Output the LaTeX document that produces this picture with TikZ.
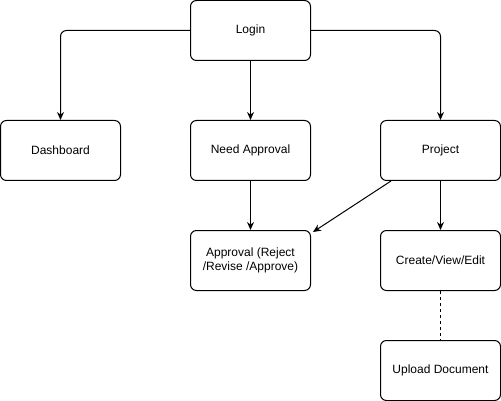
\documentclass[tikz,border=0pt]{standalone}
\usepackage{fontspec}
\setmainfont{Liberation Sans}
\usetikzlibrary{arrows.meta}

\begin{document}
\begin{tikzpicture}[x=1pt,y=-1pt,>={Stealth[length=8pt,width=7pt]},
    box/.style={draw,line width=1pt,rounded corners=6pt,minimum width=120pt,minimum height=60pt,
      inner sep=2pt,align=center,font=\fontsize{12}{14}\selectfont},
    link/.style={->,line width=1pt}]
  \useasboundingbox (0,0) rectangle (501,401);
  % boxes
  \node[box] (login) at (250.5,30.5) {Login};
  \node[box] (dash) at (60.5,150.5) {Dashboard};
  \node[box] (need) at (250.5,150.5) {Need Approval};
  \node[box] (proj) at (440.5,150.5) {Project};
  \node[box] (appr) at (250.5,260.5) {Approval (Reject\\/Revise /Approve)};
  \node[box] (cve) at (440.5,260.5) {Create/View/Edit};
  \node[box] (upload) at (440.5,370.5) {Upload Document};
  % connectors
  \draw[link,rounded corners=6pt] (login.west) -| (dash.north);
  \draw[link] (login.south) -- (need.north);
  \draw[link,rounded corners=6pt] (login.east) -| (proj.north);
  \draw[link] (need.south) -- (appr.north);
  \draw[link] ([xshift=11pt]proj.south west) -- ([xshift=2pt,yshift=-2pt]appr.north east);
  \draw[link] (proj.south) -- (cve.north);
  \draw[line width=1pt,dash pattern=on 3pt off 3pt] (cve.south) -- (upload.north);
\end{tikzpicture}
\end{document}
